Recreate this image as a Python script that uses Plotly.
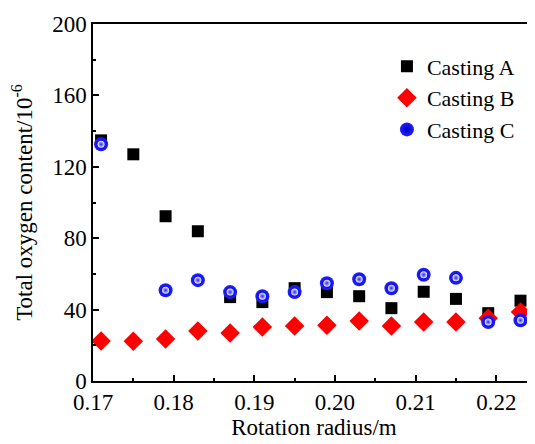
import plotly.graph_objects as go

radius_ab = [0.171, 0.175, 0.179, 0.183, 0.187, 0.191, 0.195, 0.199, 0.203, 0.207, 0.211, 0.215, 0.219, 0.223]
casting_a = [134.8, 127, 92.3, 83.9, 47, 44.2, 52, 49.8, 47.5, 40.8, 50, 46, 38, 45]
casting_b = [22.4, 22.2, 23.5, 28, 26.9, 30.2, 30.8, 31.3, 33.6, 30.8, 33, 33, 35.2, 38.6]
radius_c = [0.171, 0.179, 0.183, 0.187, 0.191, 0.195, 0.199, 0.203, 0.207, 0.211, 0.215, 0.219, 0.223]
casting_c = [132.6, 50.8, 56.5, 49.8, 47.5, 49.8, 54.8, 57, 52, 59.5, 57.8, 33, 34]

font = "Liberation Serif, Times New Roman, serif"

fig = go.Figure()
fig.add_trace(go.Scatter(x=radius_ab, y=casting_a, mode="markers", name="Casting A",
                         marker=dict(symbol="square", size=12, color="black")))
fig.add_trace(go.Scatter(x=radius_ab, y=casting_b, mode="markers", name="Casting B",
                         marker=dict(symbol="diamond", size=15, color="#ff0000")))
fig.add_trace(go.Scatter(x=radius_c, y=casting_c, mode="markers", name="Casting C",
                         marker=dict(symbol="circle", size=14, color="#2020ff",
                                     gradient=dict(type="radial", color="#0000c8"),
                                     line=dict(width=0))))
fig.add_trace(go.Scatter(x=radius_c, y=casting_c, mode="markers", showlegend=False, hoverinfo="skip",
                         marker=dict(symbol="circle", size=7, color="#f0f0ff",
                                     gradient=dict(type="radial", color="#2020ff"),
                                     line=dict(width=0))))

axis_common = dict(showline=True, linecolor="black", linewidth=1.5, mirror=True,
                   ticks="inside", ticklen=6, tickwidth=1.5, tickcolor="black",
                   showgrid=False, zeroline=False, automargin=False,
                   tickfont=dict(family=font, size=23, color="black"))

fig.update_xaxes(range=[0.17, 0.2248], dtick=0.01, tick0=0.17, tickformat=".2f",
                 minor=dict(ticks="inside", ticklen=3, tickwidth=1.5, dtick=0.005, tickcolor="black"),
                 title=dict(text="Rotation radius/m", font=dict(family=font, size=23, color="black"), standoff=4),
                 **axis_common)
fig.update_yaxes(range=[0, 200], dtick=40,
                 minor=dict(ticks="inside", ticklen=3, tickwidth=1.5, dtick=20, tickcolor="black"),
                 title=dict(text="Total oxygen content/10<sup>-6</sup>", font=dict(family=font, size=23, color="black"), standoff=14),
                 **axis_common)

# page body has an 8px default margin; margins compensate for it
fig.update_layout(width=535, height=444, margin=dict(l=85, r=8, t=16, b=71),
                  plot_bgcolor="white", paper_bgcolor="white",
                  legend=dict(x=0.665, y=0.94, xanchor="left", yanchor="top",
                              font=dict(family=font, size=22, color="black"),
                              bgcolor="rgba(0,0,0,0)", tracegroupgap=0, itemwidth=30))
fig.write_html("out.html")
